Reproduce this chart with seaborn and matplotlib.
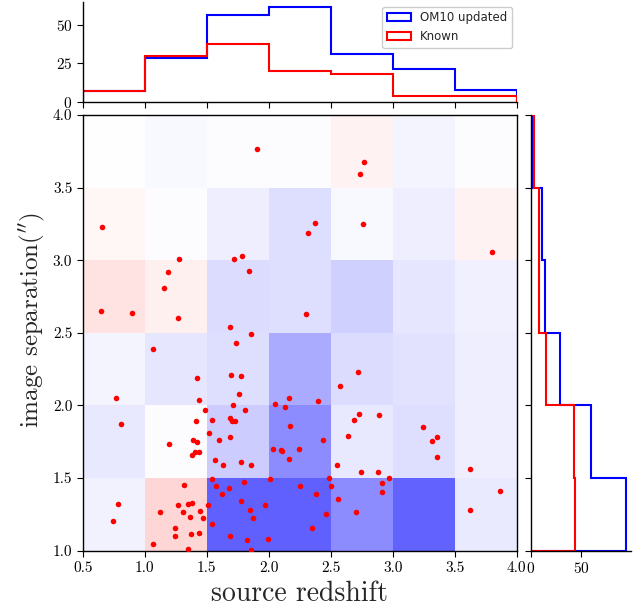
import numpy as np
import matplotlib
matplotlib.use("Agg")
import matplotlib.pyplot as plt
import seaborn as sns

# ---------------- data ----------------
z_edges = [0.5, 1.0, 1.5, 2.0, 2.5, 3.0, 3.5, 4.0]
sep_edges = [1.0, 1.5, 2.0, 2.5, 3.0, 3.5, 4.0]
z_centers = [0.75, 1.25, 1.75, 2.25, 2.75, 3.25, 3.75]
sep_centers = [1.25, 1.75, 2.25, 2.75, 3.25, 3.75]

# OM10 updated (rescaled) histogram counts
om10_z_counts = [7.2, 28.3, 56.8, 62.0, 31.3, 21.3, 7.4]
om10_sep_counts = [95.0, 59.7, 29.0, 14.7, 11.7, 2.7]

# difference map (rows: separation bins from 1.0 upwards, cols: redshift bins)
diff_row_10_15 = [-0.05, 0.16, -0.62, -0.62, -0.45, -0.61, -0.08]
diff_row_15_20 = [-0.09, -0.01, -0.20, -0.45, -0.09, -0.13, -0.07]
diff_row_20_25 = [-0.04, -0.10, -0.13, -0.33, -0.14, -0.11, -0.07]
diff_row_25_30 = [0.11, 0.06, -0.14, -0.13, -0.18, -0.10, -0.06]
diff_row_30_35 = [0.035, -0.01, -0.07, -0.13, -0.025, -0.07, 0.047]
diff_row_35_40 = [0.0, -0.03, -0.01, -0.012, 0.05, -0.04, -0.012]

# known lenses
known_z = [1.908, 0.658, 1.279, 1.190, 1.156, 0.648, 0.900, 1.269, 1.723, 1.787,
           1.839, 1.690, 1.860, 2.771, 2.739, 2.376, 2.319, 2.763, 3.801, 2.298,
           1.069, 1.734, 1.419, 1.699, 1.779, 0.769, 1.438, 1.763, 1.715, 1.489,
           0.809, 1.411, 1.540, 1.688, 1.702, 1.731, 1.521, 1.597, 1.688, 1.392,
           1.424, 1.198, 1.408, 1.440, 1.379, 1.569, 1.629, 1.779, 1.540, 1.319,
           1.578, 1.677, 1.623, 1.779, 0.785, 1.269, 1.349, 1.381, 1.508, 1.123,
           1.311, 1.448, 1.368, 1.468, 0.744, 1.543, 1.247, 1.247, 1.376, 1.438,
           1.688, 1.069, 1.349, 1.857, 1.809, 2.720, 2.575, 2.164, 2.053, 2.134,
           2.395, 2.731, 2.686, 2.890, 2.174, 2.642, 2.440, 2.032, 2.102, 2.110,
           2.242, 2.161, 1.860, 2.551, 2.742, 2.881, 2.968, 2.013, 2.489, 2.502,
           2.255, 2.911, 2.916, 2.381, 2.561, 1.970, 1.849, 1.876, 2.702, 2.462,
           2.349, 1.825, 1.997, 3.242, 3.360, 3.317, 3.360, 3.626, 3.868, 3.621,
           1.798]
known_sep = [3.766, 3.227, 3.008, 2.919, 2.809, 2.648, 2.638, 2.600, 3.008, 3.029,
             2.928, 2.540, 2.492, 3.676, 3.596, 3.258, 3.187, 3.247, 3.059, 2.629,
             2.388, 2.430, 2.189, 2.209, 2.200, 2.049, 2.039, 2.081, 2.001, 1.970,
             1.870, 1.890, 1.899, 1.911, 1.890, 1.890, 1.810, 1.760, 1.780, 1.762,
             1.750, 1.732, 1.681, 1.681, 1.661, 1.622, 1.592, 1.610, 1.493, 1.452,
             1.443, 1.433, 1.392, 1.342, 1.323, 1.312, 1.323, 1.330, 1.312, 1.264,
             1.264, 1.273, 1.234, 1.222, 1.202, 1.183, 1.153, 1.103, 1.114, 1.123,
             1.103, 1.043, 1.013, 1.006, 1.970, 2.230, 2.131, 2.051, 2.012, 1.991,
             2.030, 1.941, 1.902, 1.932, 1.860, 1.791, 1.762, 1.702, 1.693, 1.684,
             1.702, 1.631, 1.592, 1.592, 1.541, 1.541, 1.502, 1.493, 1.502, 1.443,
             1.443, 1.463, 1.404, 1.392, 1.353, 1.312, 1.282, 1.222, 1.264, 1.252,
             1.153, 1.073, 1.082, 1.851, 1.782, 1.753, 1.643, 1.562, 1.413, 1.282,
             1.473]

x_ticks = [0.5, 1.0, 1.5, 2.0, 2.5, 3.0, 3.5, 4.0]
y_ticks = [1.0, 1.5, 2.0, 2.5, 3.0, 3.5, 4.0]

# ---------------- style ----------------
sns.set_style("ticks")
plt.rcParams.update({
    "font.family": ["cmr10", "DejaVu Serif"],
    "mathtext.fontset": "cm",
    "axes.formatter.use_mathtext": True,
    "axes.edgecolor": "black",
    "axes.linewidth": 1.0,
    "xtick.color": "black",
    "ytick.color": "black",
    "xtick.major.size": 4,
    "ytick.major.size": 4,
    "xtick.labelsize": 11,
    "ytick.labelsize": 11,
})

W, H = 638, 608
fig = plt.figure(figsize=(W / 100, H / 100), dpi=100)

def rect(x0, y0, x1, y1):
    return [x0 / W, 1 - y1 / H, (x1 - x0) / W, (y1 - y0) / H]

ax = fig.add_axes(rect(82.7, 115, 516.7, 550.7))
axt = fig.add_axes(rect(82.7, 2, 516.7, 101.7), sharex=ax)
axr = fig.add_axes(rect(530.7, 115, 631, 550.7), sharey=ax)

# ---------------- main panel ----------------
grid = np.array([diff_row_10_15, diff_row_15_20, diff_row_20_25,
                 diff_row_25_30, diff_row_30_35, diff_row_35_40])
ax.pcolormesh(z_edges, sep_edges, grid, cmap="bwr", vmin=-1, vmax=1)
sns.scatterplot(x=known_z, y=known_sep, ax=ax, color="red", s=16,
                linewidth=0, zorder=3)
ax.set_xlim(0.5, 4.0)
ax.set_ylim(1.0, 4.0)
ax.set_xticks(x_ticks)
ax.set_yticks(y_ticks)
ax.set_xticklabels([f"{t:.1f}" for t in x_ticks])
ax.set_yticklabels([f"{t:.1f}" for t in y_ticks])
ax.set_xlabel("source redshift", fontsize=20, labelpad=4)
ax.set_ylabel(r"image separation(${}^{\prime\prime}$)", fontsize=18)
ax.yaxis.set_label_coords(-0.082, 0.53)
for s in ax.spines.values():
    s.set_visible(True)

# ---------------- top histogram ----------------
axt.hist(z_centers, bins=z_edges, weights=om10_z_counts, histtype="step",
         color="blue", lw=1.5, label="OM10 updated")
axt.hist(known_z, bins=z_edges, histtype="step", color="red", lw=1.5,
         label="Known")
axt.set_yticks([0, 25, 50])
axt.tick_params(axis="x", labelbottom=False)
sns.despine(ax=axt)
axt.legend(loc="upper right", prop={"family": "DejaVu Sans", "size": 8.5},
           fancybox=True, framealpha=1.0, edgecolor="#cccccc",
           borderaxespad=0.4)

# ---------------- right histogram ----------------
axr.hist(sep_centers, bins=sep_edges, weights=om10_sep_counts, histtype="step",
         color="blue", lw=1.5, orientation="horizontal")
axr.hist(known_sep, bins=sep_edges, histtype="step", color="red", lw=1.5,
         orientation="horizontal")
axr.set_xticks([0, 50])
axr.tick_params(axis="y", labelleft=False)
sns.despine(ax=axr)

fig.savefig("out.png", dpi=100)
